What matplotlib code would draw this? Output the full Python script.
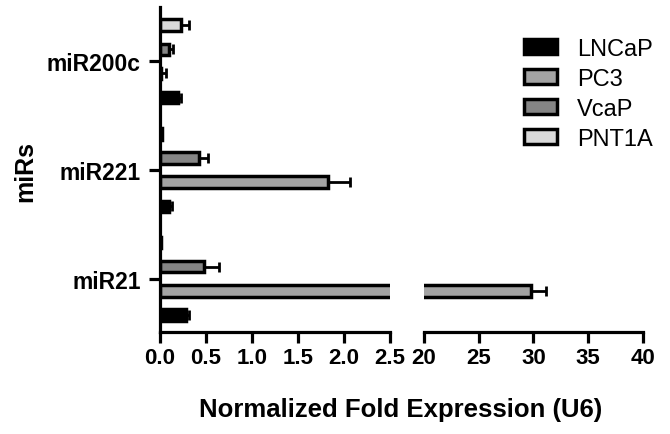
import matplotlib
matplotlib.use("Agg")
import matplotlib.pyplot as plt
import numpy as np
from matplotlib.ticker import FixedLocator

plt.rcParams['font.family'] = ['Liberation Sans', 'DejaVu Sans']

mirs = ['miR21', 'miR221', 'miR200c']
series = ['LNCaP', 'PC3', 'VcaP', 'PNT1A']
lncap = [0.28, 0.10, 0.20]
lncap_err = [0.03, 0.03, 0.03]
pc3 = [29.8, 1.83, 0.01]
pc3_err = [1.3, 0.24, 0.05]
vcap = [0.48, 0.42, 0.10]
vcap_err = [0.16, 0.10, 0.04]
pnt1a = [0.01, 0.02, 0.23]
pnt1a_err = [0.0, 0.0, 0.09]
left_ticks = [0.0, 0.5, 1.0, 1.5, 2.0, 2.5]
right_ticks = [20, 25, 30, 35, 40]

values = [lncap, pc3, vcap, pnt1a]
errors = [lncap_err, pc3_err, vcap_err, pnt1a_err]
colors = ['#000000', '#a3a3a3', '#858585', '#d9d9d9']
offsets = [-0.333, -0.111, 0.111, 0.333]
bar_h = 0.105
lw = 2.5

fig = plt.figure(figsize=(6.7, 4.35), dpi=100)
axL = fig.add_axes([0.2388, 0.2345, 0.3433, 0.7471])
axR = fig.add_axes([0.6328, 0.2345, 0.3269, 0.7471], sharey=axL)

y = np.arange(len(mirs))
handles = []
for ax in (axL, axR):
    for v, e, c, off, name in zip(values, errors, colors, offsets, series):
        b = ax.barh(y + off, v, height=bar_h, color=c, edgecolor='black',
                    linewidth=lw, label=name, zorder=2)
        ax.errorbar(v, y + off, xerr=[np.zeros(len(e)), e], fmt='none',
                    ecolor='black', elinewidth=2, capsize=3.5, capthick=2, zorder=3)
        if ax is axL:
            handles.append(b)

axL.set_xlim(0, 2.5)
axR.set_xlim(20, 40)
axL.set_ylim(-0.49, 2.5)

for ax in (axL, axR):
    ax.spines['top'].set_visible(False)
    ax.spines['right'].set_visible(False)
    ax.spines['bottom'].set_linewidth(2.3)
    ax.spines['left'].set_linewidth(2.3)
    ax.tick_params(axis='x', direction='out', length=8, width=2.3, pad=3,
                   labelsize=16)

axL.set_xticks(left_ticks)
axL.set_xticklabels([f"{t:.1f}" for t in left_ticks], fontweight='bold', fontsize=16)
axR.set_xticks(right_ticks)
axR.set_xticklabels([str(t) for t in right_ticks], fontweight='bold', fontsize=16)
axL.xaxis.set_minor_locator(FixedLocator([2.5]))
axR.xaxis.set_minor_locator(FixedLocator([20]))
for ax in (axL, axR):
    ax.tick_params(axis='x', which='minor', direction='in', length=6, width=2.3)

axL.set_yticks(y)
axL.set_yticklabels(mirs, fontweight='bold', fontsize=16.5)
axL.tick_params(axis='y', direction='out', length=8, width=2.3, pad=6)
axR.spines['left'].set_visible(False)
axR.tick_params(axis='y', left=False, labelleft=False)

fig.text(0.5985, 0.041, 'Normalized Fold Expression (U6)', ha='center',
         va='baseline', fontsize=18.5, fontweight='bold')
fig.text(0.037, 1 - 172 / 435, 'miRs', rotation=90, ha='center', va='center',
         fontsize=18, fontweight='bold')

fig.legend(handles=handles, labels=series, loc='upper left',
           bbox_to_anchor=(0.782, 0.91), frameon=False, fontsize=17,
           handlelength=1.4, handleheight=0.6, handletextpad=0.85,
           labelspacing=0.33, borderpad=0, borderaxespad=0)

fig.savefig('out.png', dpi=100)
